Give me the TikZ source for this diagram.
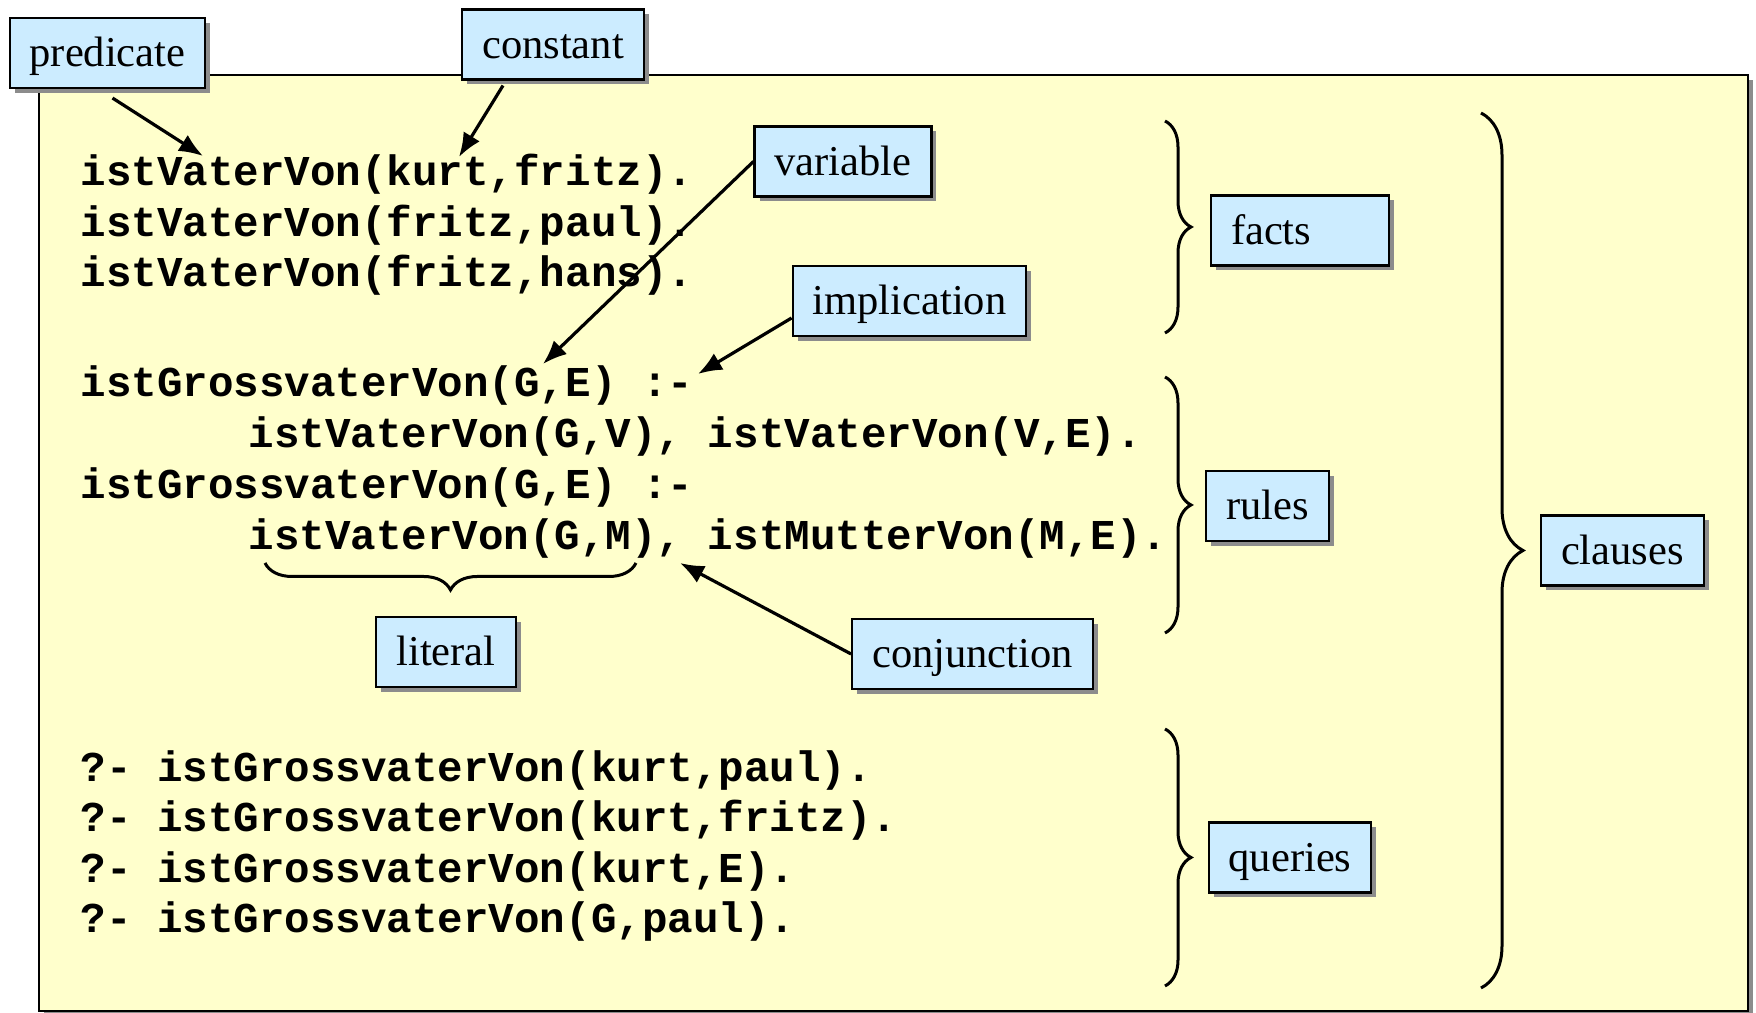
\documentclass[tikz,border=0pt]{standalone}
\usepackage{fontspec}
\setmainfont{Liberation Serif}
\newfontfamily\codefont{Liberation Mono}
\usetikzlibrary{positioning,arrows.meta,shadows}
\usetikzlibrary{decorations.pathreplacing}
\definecolor{bgyellow}{HTML}{FFFFCC}
\definecolor{tagblue}{HTML}{CCECFF}

\begin{document}
\begin{tikzpicture}[x=0.1mm,y=0.1mm,
    tag/.style={
% The shape:
rectangle,
% The size:
minimum height=7mm, inner xsep=2mm,
text height=3.2mm, text depth=0.4mm,
% The border:
line width=0.6pt, draw, fill=tagblue,
drop shadow={shadow xshift=0.5mm, shadow yshift=-0.5mm, fill=black!45, opacity=1},
font=\fontsize{12.1}{14}\selectfont,
},
    code/.style={
anchor=base west, inner sep=0pt,
font=\codefont\bfseries\fontsize{12.1}{14}\selectfont,
},
    arr/.style={-{Latex[length=2.4mm,width=1.9mm]}, line width=0.32mm},
    brc/.style={decorate, decoration={brace, amplitude=#1}, line width=0.3mm},
]
  \useasboundingbox (0,0) rectangle (1756,1013);
  \draw[line width=0.6pt, fill=bgyellow,
    drop shadow={shadow xshift=0.5mm, shadow yshift=-0.5mm, fill=black!45, opacity=1}]
    (39,2) rectangle (1748,938);

  % facts
  \node[code] (f1) at (80,827) {istVaterVon(kurt,fritz).};
  \node[code] (f2) at (80,776) {istVaterVon(fritz,paul).};
  \node[code] (f3) at (80,726) {istVaterVon(fritz,hans).};
  % rules
  \node[code] (r1) at (80,616) {istGrossvaterVon(G,E) :-};
  \node[code] (r2) at (248,565) {istVaterVon(G,V), istVaterVon(V,E).};
  \node[code] (r3) at (80,514) {istGrossvaterVon(G,E) :-};
  \node[code] (r4) at (248,463) {istVaterVon(G,M), istMutterVon(M,E).};
  % queries
  \node[code] (q1) at (80,231) {?- istGrossvaterVon(kurt,paul).};
  \node[code] (q2) at (80,181) {?- istGrossvaterVon(kurt,fritz).};
  \node[code] (q3) at (80,130) {?- istGrossvaterVon(kurt,E).};
  \node[code] (q4) at (80,80) {?- istGrossvaterVon(G,paul).};

  \draw[brc=2.6mm] (1165,892) -- (1165,680);
  \draw[brc=2.6mm] (1165,636) -- (1165,380);
  \draw[brc=2.6mm] (1165,284) -- (1165,27);
  \draw[brc=4.2mm] (1481,900) -- (1481,25);
  \draw[brc=2.7mm] (636,450) -- (265,450);

  \node[tag] (pred) at (107.5,960) {predicate};
  \node[tag] (const) at (553,968.5) {constant};
  \node[tag] (var) at (843,851.5) {variable};
  \node[tag] (impl) at (909.5,712) {implication};
  \node[tag, text width=13.8mm, align=left] (facts) at (1300,782.5) {facts};
  \node[tag] (rules) at (1267.5,507) {rules};
  \node[tag] (clauses) at (1622.5,462.5) {clauses};
  \node[tag] (literal) at (446,361) {literal};
  \node[tag] (conj) at (972.5,359) {conjunction};
  \node[tag] (queries) at (1290,155.5) {queries};

  \coordinate (predtip) at (203,857);
  \coordinate (consttip) at (459,856);
  \coordinate (vartip) at (543,649);
  \coordinate (impltip) at (698,639);
  \coordinate (conjtip) at (680,450);
  \draw[arr] ([xshift=0.5mm,yshift=-0.9mm]pred.south) -- (predtip);
  \draw[arr] ([xshift=-5mm,yshift=-0.5mm]const.south) -- (consttip);
  \draw[arr] (var.west) -- (vartip);
  \draw[arr] ([yshift=-1.7mm]impl.west) -- (impltip);
  \draw[arr] (conj.west) -- (conjtip);

\end{tikzpicture}
\end{document}
